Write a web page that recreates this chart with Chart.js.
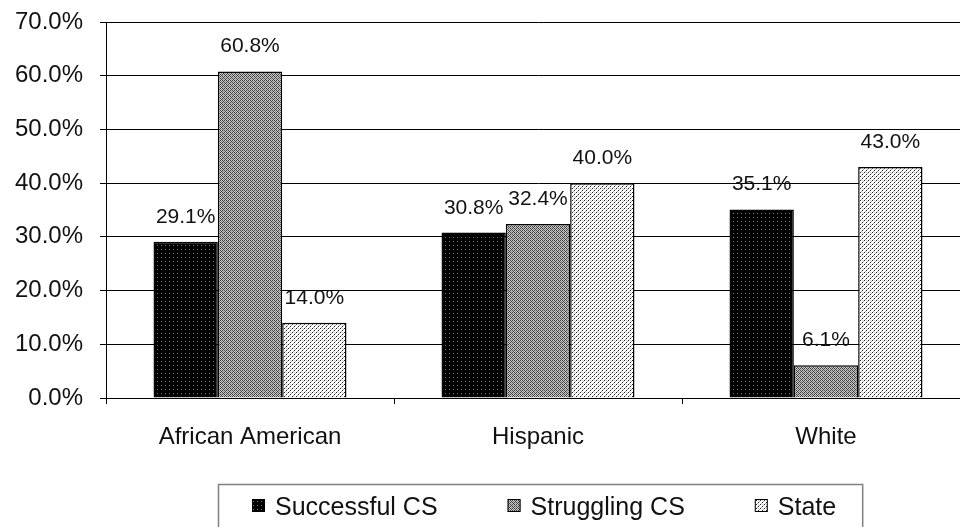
<!DOCTYPE html>
<html>
<head>
<meta charset="utf-8">
<script src="https://cdn.jsdelivr.net/npm/chart.js@4"></script>
<style>
  html, body { margin: 0; padding: 0; background: #fff; overflow: hidden; }
  canvas { display: block; }
</style>
</head>
<body>
<canvas id="grafico" width="980" height="527"></canvas>
<script>
const categorias = ['African American', 'Hispanic', 'White'];
const nomesSeries = ['Successful CS', 'Struggling CS', 'State'];
const successfulCS = [29.1, 30.8, 35.1];
const strugglingCS = [60.8, 32.4, 6.1];
const stateValores = [14.0, 40.0, 43.0];
const yMax = 70;
const yPasso = 10;

const fonte = '"Liberation Sans", Arial, sans-serif';

// padroes de preenchimento (parecidos com os do Excel antigo)
function criarPadrao(tam, desenhar) {
    const c = document.createElement('canvas');
    c.width = tam;
    c.height = tam;
    const g = c.getContext('2d');
    desenhar(g);
    return g.createPattern(c, 'repeat');
}

function px(g, cor, x, y) {
    g.fillStyle = cor;
    g.fillRect(x, y, 1, 1);
}

const padraoPreto = criarPadrao(4, (g) => {
    g.fillStyle = '#000';
    g.fillRect(0, 0, 4, 4);
    px(g, '#777', 1, 1);
});

const padraoCinza = criarPadrao(4, (g) => {
    for (let y = 0; y < 4; y++) {
        for (let x = 0; x < 4; x++) {
            px(g, (x + y) % 2 === 0 ? '#3c3c3c' : '#c8c8c8', x, y);
        }
    }
    px(g, '#8a8a8a', 1, 1);
    px(g, '#8a8a8a', 3, 3);
});

const padraoClaro = criarPadrao(4, (g) => {
    g.fillStyle = '#fff';
    g.fillRect(0, 0, 4, 4);
    px(g, '#222', 0, 0);
    px(g, '#222', 2, 2);
    px(g, '#a8a8a8', 1, 3);
    px(g, '#a8a8a8', 3, 1);
    px(g, '#d0d0d0', 2, 0);
});

const rotulosBarras = {
    id: 'rotulosBarras',
    afterDatasetsDraw(chart) {
        const ctx = chart.ctx;
        ctx.save();
        ctx.font = '21px ' + fonte;
        ctx.fillStyle = '#111';
        ctx.textAlign = 'center';
        ctx.textBaseline = 'alphabetic';
        chart.data.datasets.forEach((ds, i) => {
            chart.getDatasetMeta(i).data.forEach((barra, j) => {
                ctx.fillText(ds.data[j].toFixed(1) + '%', barra.x, barra.y - 19);
            });
        });
        ctx.restore();
    }
};

const legendaCaixa = {
    id: 'legendaCaixa',
    afterDraw(chart) {
        const ctx = chart.ctx;
        const ds = chart.data.datasets;
        ctx.save();
        ctx.font = '25px ' + fonte;
        const larguras = ds.map(d => ctx.measureText(d.label).width);
        const quadrado = 13, espaco = 10, entre = 70;
        let total = 0;
        larguras.forEach((w, i) => {
            total += quadrado + espaco + w;
            if (i < larguras.length - 1) total += entre;
        });
        const centro = 544;
        let x = Math.round(centro - total / 2);
        const esquerda = x - 34, direita = x + total + 26;

        ctx.strokeStyle = '#808080';
        ctx.lineWidth = 1.5;
        ctx.strokeRect(esquerda + 0.5, 484.5, direita - esquerda, 80);

        ds.forEach((d, i) => {
            ctx.fillStyle = d.backgroundColor;
            ctx.fillRect(x, 499, quadrado, quadrado);
            ctx.strokeStyle = '#000';
            ctx.lineWidth = 1;
            ctx.strokeRect(x + 0.5, 499.5, quadrado - 1, quadrado - 1);
            ctx.fillStyle = '#111';
            ctx.textBaseline = 'alphabetic';
            ctx.fillText(d.label, x + quadrado + espaco, 515);
            x += quadrado + espaco + larguras[i] + entre;
        });
        ctx.restore();
    }
};

const ctx = document.getElementById('grafico').getContext('2d');

new Chart(ctx, {
    type: 'bar',
    data: {
        labels: categorias,
        datasets: [
            {
                label: nomesSeries[0],
                data: successfulCS,
                backgroundColor: padraoPreto,
                borderColor: '#000',
                borderWidth: 1.5
            },
            {
                label: nomesSeries[1],
                data: strugglingCS,
                backgroundColor: padraoCinza,
                borderColor: '#000',
                borderWidth: 1.5
            },
            {
                label: nomesSeries[2],
                data: stateValores,
                backgroundColor: padraoClaro,
                borderColor: '#000',
                borderWidth: 1.5
            }
        ]
    },
    options: {
        responsive: false,
        animation: false,
        layout: {
            padding: { top: 22, right: 10, bottom: 0, left: 0 }
        },
        datasets: {
            bar: {
                categoryPercentage: 0.67,
                barPercentage: 1.0
            }
        },
        scales: {
            x: {
                afterFit(escala) {
                    escala.height = 129;
                    escala.paddingLeft = 0;
                    escala.paddingRight = 0;
                },
                grid: {
                    offset: true,
                    drawOnChartArea: false,
                    drawTicks: true,
                    tickLength: 6,
                    color: '#000'
                },
                border: { display: true, color: '#000', width: 1 },
                ticks: {
                    color: '#111',
                    padding: 19,
                    font: { family: fonte, size: 24 }
                }
            },
            y: {
                min: 0,
                max: yMax,
                afterFit(escala) {
                    escala.width = 106;
                    escala.paddingTop = 0;
                    escala.paddingBottom = 0;
                },
                grid: {
                    color: '#000',
                    lineWidth: 1,
                    drawTicks: true,
                    tickLength: 6
                },
                border: { display: true, color: '#000', width: 1 },
                ticks: {
                    stepSize: yPasso,
                    color: '#111',
                    padding: 17,
                    font: { family: fonte, size: 24 },
                    callback: (v) => v.toFixed(1) + '%'
                }
            }
        },
        plugins: {
            legend: { display: false },
            tooltip: { enabled: false },
            title: { display: false }
        }
    },
    plugins: [rotulosBarras, legendaCaixa]
});
</script>
</body>
</html>
